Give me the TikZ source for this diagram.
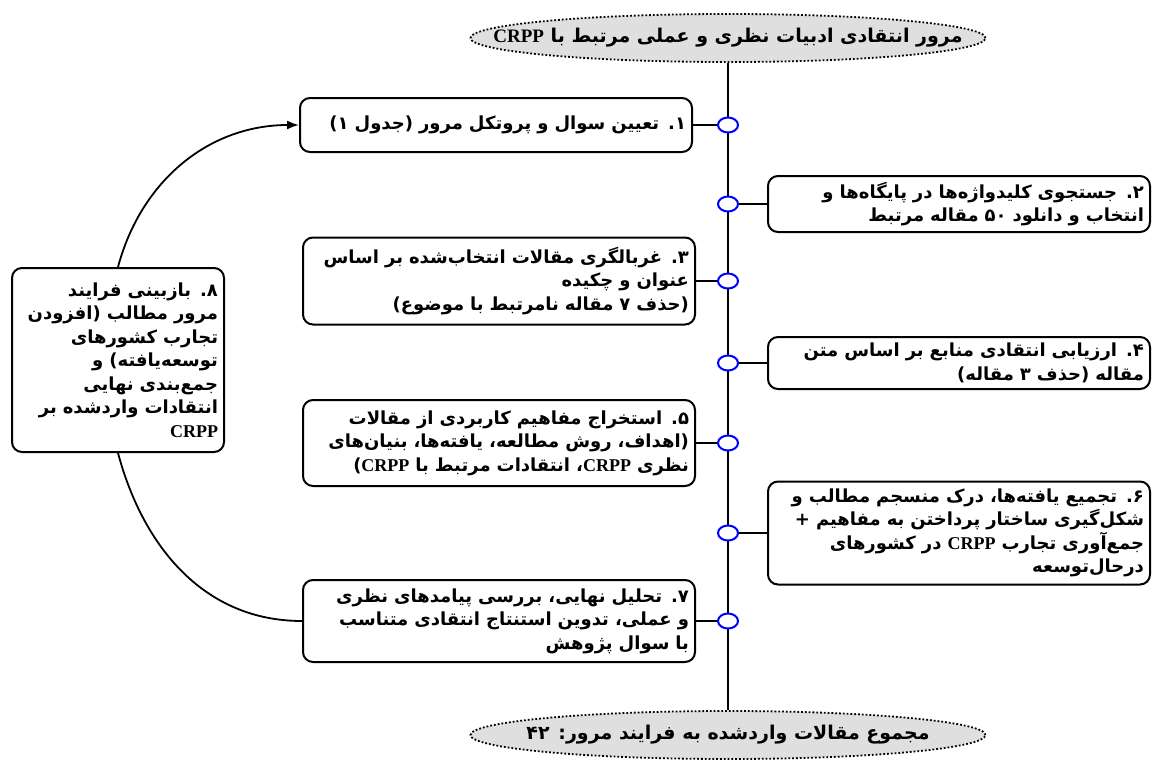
\documentclass[tikz,border=0pt]{standalone}
\usepackage{fontspec}
\usepackage{tikz}
\usetikzlibrary{arrows.meta,shapes.geometric}
\TeXXeTstate=1
\newfontfamily\fatext[Script=Arabic]{DejaVu Sans}
\newfontfamily\lattext{Liberation Serif}
\newcommand{\rl}[1]{\beginR #1\endR}
\newcommand{\crpp}{{\lattext\bfseries CRPP}}

\tikzset{
  stepbox/.style={draw, line width=2pt, rounded corners=10pt, fill=white,
    align=right, inner xsep=6pt, inner ysep=4pt,
    font=\fatext\bfseries\fontsize{18}{23.5}\selectfont},
  endcap/.style={ellipse, draw, dotted, line width=1.8pt, fill=gray!25,
    minimum width=515pt, minimum height=48pt, inner xsep=-70pt, inner ysep=0pt,
    font=\fatext\bfseries\fontsize{19}{22}\selectfont},
  knot/.style={ellipse, draw=blue, line width=2pt, fill=white,
    minimum width=20pt, minimum height=15pt, inner sep=0pt},
  link/.style={line width=1.8pt}
}

\begin{document}
\begin{tikzpicture}[x=1pt, y=-1pt]
\useasboundingbox (0,0) rectangle (1157,763);

% start and end of the review
\node[endcap] (top) at (728,38) {\rl{مرور انتقادی ادبیات نظری و عملی مرتبط با \crpp}};
\node[endcap] (bot) at (728,735) {\rl{مجموع مقالات واردشده به فرایند مرور: ۴۲}};
\draw[link] (top.south) -- (bot.north);

% points on the main line
\node[knot] (k1) at (728,125) {};
\node[knot] (k2) at (728,204) {};
\node[knot] (k3) at (728,281) {};
\node[knot] (k4) at (728,363) {};
\node[knot] (k5) at (728,443) {};
\node[knot] (k6) at (728,533) {};
\node[knot] (k7) at (728,621) {};

% steps on the left
\node[stepbox, text width=380pt, minimum height=54pt] (s1) at (496,125)
  {\rl{۱. تعیین سوال و پروتکل مرور (جدول ۱)}};
\node[stepbox, text width=380pt, minimum height=87pt] (s3) at (499,281)
  {\rl{۳. غربالگری مقالات انتخاب‌شده بر اساس}\\
   \rl{عنوان و چکیده}\\
   \rl{(حذف ۷ مقاله نامرتبط با موضوع)}};
\node[stepbox, text width=380pt, minimum height=86pt] (s5) at (499,443)
  {\rl{۵. استخراج مفاهیم کاربردی از مقالات}\\
   \rl{(اهداف، روش مطالعه، یافته‌ها، بنیان‌های}\\
   \rl{نظری \crpp، انتقادات مرتبط با \crpp)}};
\node[stepbox, text width=380pt, minimum height=82pt] (s7) at (499,621)
  {\rl{۷. تحلیل نهایی، بررسی پیامدهای نظری}\\
   \rl{و عملی، تدوین استنتاج انتقادی متناسب}\\
   \rl{با سوال پژوهش}};

% steps on the right
\node[stepbox, text width=370pt, minimum height=56pt] (s2) at (959,204)
  {\rl{۲. جستجوی کلیدواژه‌ها در پایگاه‌ها و}\\
   \rl{انتخاب و دانلود ۵۰ مقاله مرتبط}};
\node[stepbox, text width=370pt, minimum height=52pt] (s4) at (959,363)
  {\rl{۴. ارزیابی انتقادی منابع بر اساس متن}\\
   \rl{مقاله (حذف ۳ مقاله)}};
\node[stepbox, text width=370pt, minimum height=103pt] (s6) at (959,533)
  {\rl{۶. تجمیع یافته‌ها، درک منسجم مطالب و}\\
   \rl{شکل‌گیری ساختار پرداختن به مفاهیم +}\\
   \rl{جمع‌آوری تجارب \crpp{} در کشورهای}\\
   \rl{درحال‌توسعه}};

% revision step
\node[stepbox, text width=200pt, minimum height=184pt] (s8) at (118,360)
  {\rl{۸. بازبینی فرایند}\\
   \rl{مرور مطالب (افزودن}\\
   \rl{تجارب کشورهای}\\
   \rl{توسعه‌یافته) و}\\
   \rl{جمع‌بندی نهایی}\\
   \rl{انتقادات واردشده بر}\\
   \crpp};

% links to the main line
\foreach \n in {1,3,5,7}
  \draw[link] (s\n.east) -- (k\n.west);
\foreach \n in {2,4,6}
  \draw[link] (s\n.west) -- (k\n.east);

% loop back through the revision
\draw[link] (s7.west) to[out=180, in=-75] (s8.south);
\draw[link, -{Latex[length=12pt, width=9pt]}] (s8.north) to[out=75, in=180] (s1.west);

\end{tikzpicture}
\end{document}
